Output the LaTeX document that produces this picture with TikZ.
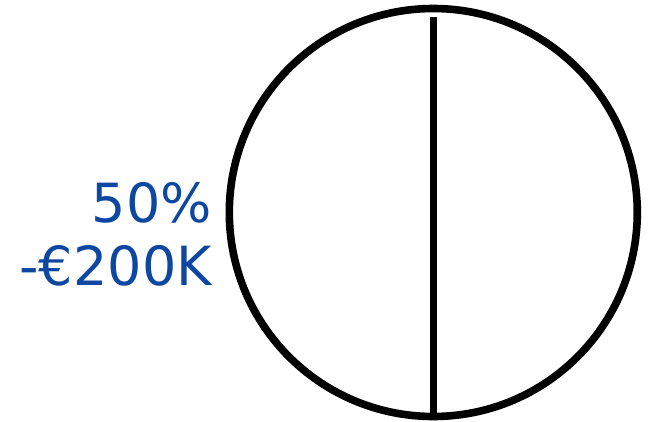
\documentclass[tikz,border=0pt]{standalone}
\usepackage{fontspec}
\setmainfont{DejaVu Sans}
\definecolor{labelblue}{RGB}{13,71,161}
\begin{document}
\begin{tikzpicture}[x=1pt,y=-1pt,
  ring/.style={draw=black,line width=7.6pt,circle,minimum size=408pt,inner sep=0pt},
  divider/.style={draw=black,line width=7.2pt},
  lbl/.style={text=labelblue,font=\fontsize{54}{63}\selectfont,inner sep=0pt,anchor=base east}]
\useasboundingbox (0,0) rectangle (659,421);
\node[ring] (c) at (433.3,212.5) {};
\coordinate (top) at (433.3,17);
\coordinate (bot) at (433.3,413);
\draw[divider] (top) -- (bot);
\node[lbl] (pct) at (212,222) {50\%};
\node[lbl] (amt) at (212,285) {-€200K};
\end{tikzpicture}
\end{document}
